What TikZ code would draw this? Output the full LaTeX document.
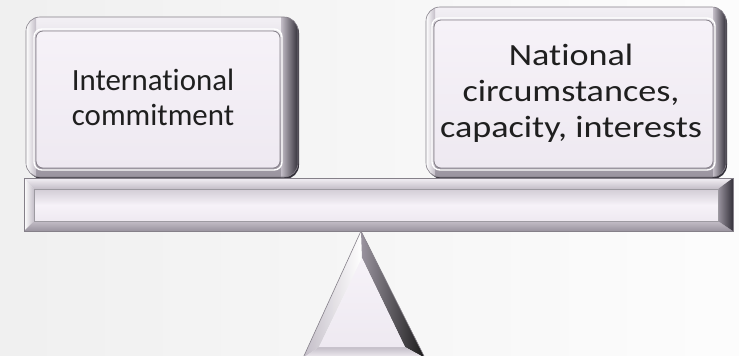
\documentclass[tikz,border=0pt]{standalone}
\usepackage{fontspec}
\setmainfont[Ligatures=NoCommon]{Carlito}
\begin{document}
\definecolor{panel}{HTML}{F6F2F8}
\definecolor{panelLow}{HTML}{EEE9F1}
\definecolor{edgeHi}{HTML}{F3F0F5}
\definecolor{edgeMid}{HTML}{C3BDC7}
\definecolor{edgeLow}{HTML}{9A949F}
\definecolor{edgeDark}{HTML}{34313A}
\definecolor{rim}{HTML}{858089}
\tikzset{
  label text/.style={align=center, text=black!88,
    font=\fontsize{31}{36}\selectfont, inner sep=0pt},
  inner panel/.style={rounded corners=7, top color=panel, bottom color=panelLow,
    draw=rim, line width=0.8pt},
  panel hi/.style={rounded corners=8, draw=white, line width=1.4pt},
}
\begin{tikzpicture}[x=1bp, y=-1bp]
  % backdrop
  \shade[left color=black!6, right color=black!1] (0,0) rectangle (739,355);
  \useasboundingbox (0,0) rectangle (739,355);

  % ---------- left weight ----------
  \fill[edgeDark, rounded corners=14] (28,19) rectangle (299,179);
  \begin{scope}
    \clip[rounded corners=14] (26,17) rectangle (298,177);
    \shade[top color=edgeHi, bottom color=edgeLow] (26,17) rectangle (298,177);
    \shade[left color=edgeMid, right color=edgeDark] (281,10) rectangle (298,185);
    \shade[left color=white, right color=edgeMid] (26,10) rectangle (36,185);
  \end{scope}
  \draw[rim, line width=0.6pt, rounded corners=14] (26,17) rectangle (298,177);
  \draw[panel hi] (34,29) rectangle (282,170);
  \draw[inner panel] (36,31) rectangle (280,168);
  \node[label text, font=\fontsize{31}{35}\selectfont] (intl) at (153,97)
    {International\\commitment};

  % ---------- right weight ----------
  \fill[edgeDark, rounded corners=14] (428,9) rectangle (727,179);
  \begin{scope}
    \clip[rounded corners=14] (426,7) rectangle (726,177);
    \shade[top color=edgeHi, bottom color=edgeLow] (426,7) rectangle (726,177);
    \shade[left color=edgeMid, right color=edgeDark] (713,0) rectangle (726,185);
    \shade[left color=white, right color=edgeMid] (426,0) rectangle (435,185);
  \end{scope}
  \draw[rim, line width=0.6pt, rounded corners=14] (426,7) rectangle (726,177);
  \draw[panel hi] (432,18) rectangle (715,170);
  \draw[inner panel] (434,20) rectangle (713,168);
  \node[label text, xscale=1.17] (natl) at (571,93)
    {National\\circumstances,\\capacity, interests};

  % ---------- beam ----------
  \coordinate (bTL) at (24,178);  \coordinate (bTR) at (733,178);
  \coordinate (bBL) at (24,231);  \coordinate (bBR) at (733,231);
  \coordinate (iTL) at (34,189);  \coordinate (iTR) at (718,189);
  \coordinate (iBL) at (34,221);  \coordinate (iBR) at (718,221);
  \shade[top color=edgeHi, bottom color=edgeMid] (bTL) -- (bTR) -- (iTR) -- (iTL) -- cycle;
  \shade[left color=white, right color=edgeMid] (bTL) -- (iTL) -- (iBL) -- (bBL) -- cycle;
  \shade[top color=edgeMid, bottom color=edgeLow] (iBL) -- (iBR) -- (bBR) -- (bBL) -- cycle;
  \shade[left color=edgeLow, right color=edgeDark] (bTR) -- (bBR) -- (iBR) -- (iTR) -- cycle;
  \shade[top color=edgeMid!70!panel, bottom color=panelLow, middle color=panel]
    (iTL) rectangle (iBR);
  \draw[rim, line width=0.6pt] (bTL) rectangle (bBR);
  \draw[rim!80, line width=0.5pt] (iTL) rectangle (iBR);

  % ---------- fulcrum ----------
  \coordinate (tA) at (361,231);  \coordinate (tB) at (303,358);  \coordinate (tC) at (425,358);
  \coordinate (ta) at (362,258);  \coordinate (tb) at (319,347);  \coordinate (tc) at (405,347);
  \shade[left color=edgeMid, right color=white] (tA) -- (ta) -- (tb) -- (tB) -- cycle;
  \shade[left color=edgeLow, right color=black!90] (tA) -- (tC) -- (tc) -- (ta) -- cycle;
  \shade[top color=edgeMid, bottom color=edgeHi] (tb) -- (tc) -- (tC) -- (tB) -- cycle;
  \shade[top color=panel, bottom color=panelLow] (ta) -- (tc) -- (tb) -- cycle;
  \draw[rim, line width=0.6pt, line join=round] (tB) -- (tA) -- (tC);
\end{tikzpicture}
\end{document}
